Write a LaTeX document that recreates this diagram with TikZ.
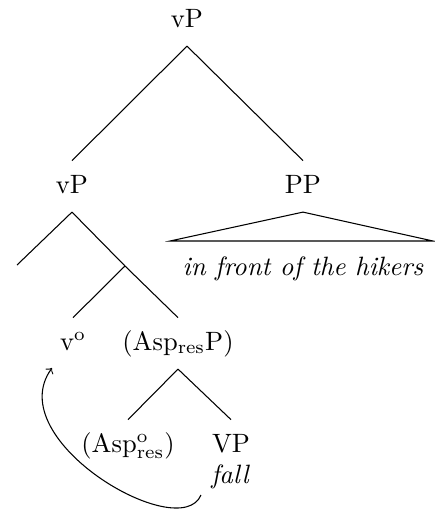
\documentclass[tikz,border=0pt]{standalone}
\begin{document}
\begin{tikzpicture}[x=0.377pt,y=-0.377pt,
  lbl/.style={anchor=base,inner xsep=0pt,inner ysep=5pt,
              text height=7pt,text depth=2pt},
  txt/.style={anchor=base,inner sep=0pt},
  branch/.style={line width=0.4pt},
  move/.style={->,line width=0.4pt}]
\useasboundingbox (0,0) rectangle (435,511);

% labelled nodes
\node[lbl] (vp)   at (187,27)  {vP};
\node[lbl] (vp2)  at (72,193)  {vP};
\node[lbl] (pp)   at (303,193) {PP};
\node[txt] (ppt)  at (303,275) {\itshape in front of the hikers};
\node[lbl] (v0)   at (73,350)  {v$^{\mathrm{o}}$};
\node[lbl] (asp)  at (178,350) {(Asp$_{\mathrm{res}}$P)};
\node[lbl] (asp0) at (128,452) {(Asp$^{\mathrm{o}}_{\mathrm{res}}$)};
\node[lbl] (vpl)  at (231,452) {VP};
\node[txt] (fall) at (230,483) {\itshape fall};

% unlabelled positions
\coordinate (leafL) at (17,265);
\coordinate (bar)   at (125,266);
\coordinate (triL)  at (170,241);
\coordinate (triR)  at (433,241);
\coordinate (mvS)   at (201,495);
\coordinate (mvE)   at (52,368);

% branches
\draw[branch] (vp.south) -- (vp2.north);
\draw[branch] (vp.south) -- (pp.north);
\draw[branch] (vp2.south) -- (leafL);
\draw[branch] (vp2.south) -- (bar);
\draw[branch] (bar) -- (v0.north);
\draw[branch] (bar) -- (asp.north);
\draw[branch] (asp.south) -- (asp0.north);
\draw[branch] (asp.south) -- (vpl.north);
\draw[branch] (pp.south) -- (triL) -- (triR) -- cycle;

% head movement
\draw[move] (mvS) .. controls (180,545) and (0,440) .. (mvE);
\end{tikzpicture}
\end{document}
